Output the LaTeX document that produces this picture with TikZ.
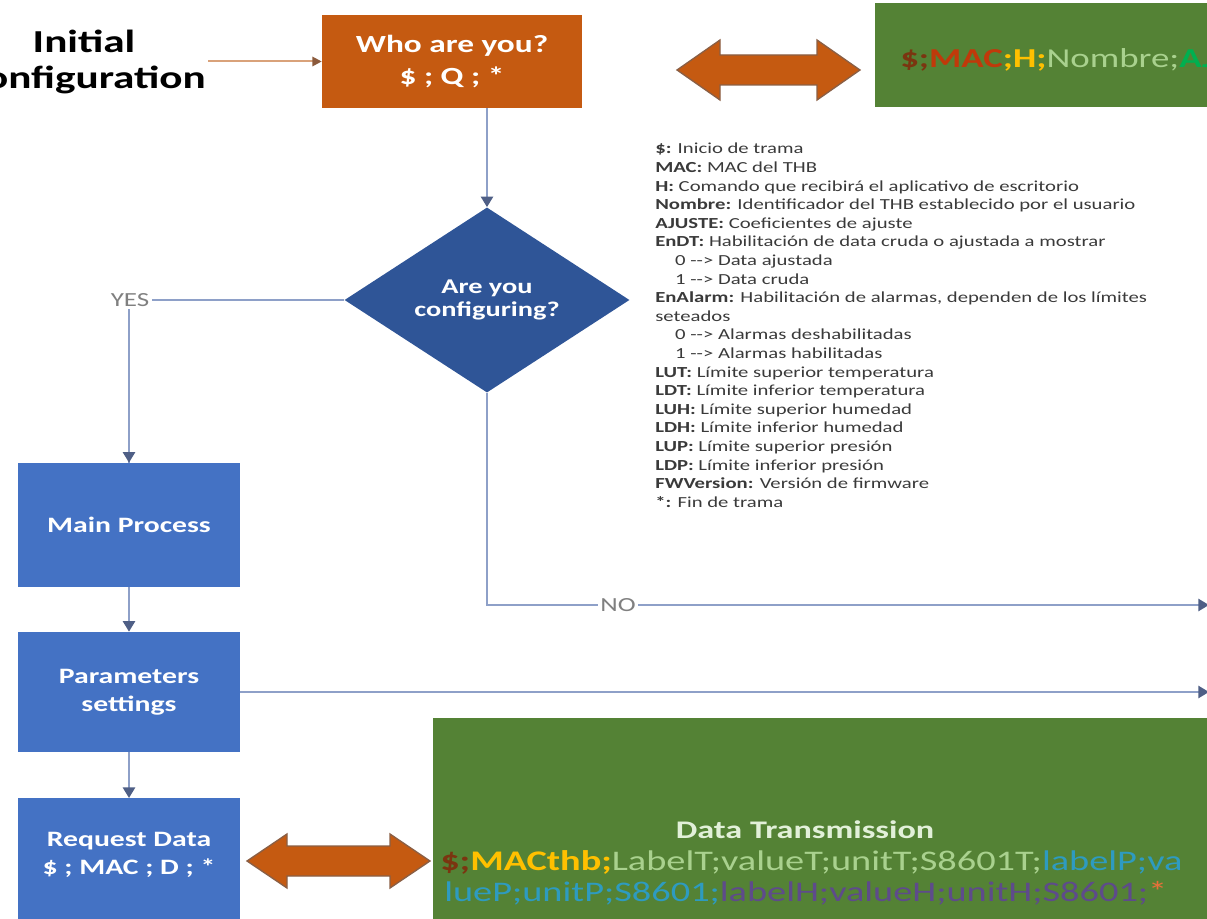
\documentclass[tikz,border=0pt]{standalone}
\usepackage{fontspec}
\setmainfont{Carlito}[FakeStretch=1.35]
\usetikzlibrary{arrows.meta,shapes.geometric}
\definecolor{orangeC}{HTML}{C55A11}
\definecolor{greenC}{HTML}{548235}
\definecolor{blueC}{HTML}{4472C4}
\definecolor{diaC}{HTML}{2F5597}
\definecolor{lineC}{HTML}{8EA0C8}
\definecolor{tipC}{HTML}{4F5F86}
\definecolor{darrLine}{HTML}{8A5F45}
\definecolor{initLine}{HTML}{D9A27A}
\definecolor{initTip}{HTML}{8B5A3C}
\definecolor{noteC}{HTML}{3A3A3A}
\definecolor{lblC}{HTML}{808080}
\definecolor{dbrown}{HTML}{7B3510}
\definecolor{redC}{HTML}{C0390A}
\definecolor{goldC}{HTML}{FFC000}
\definecolor{lgreen}{HTML}{A9D18E}
\definecolor{brgreen}{HTML}{00B050}
\definecolor{tealC}{HTML}{2E9BC0}
\definecolor{purpC}{HTML}{5E4B8B}
\definecolor{starC}{HTML}{E8703A}
\definecolor{titleC}{HTML}{E2F0D9}
\tikzset{
  boxbase/.style={draw=none, inner sep=0pt, align=center, text=white, font=\bfseries\fontsize{16.5}{21}\selectfont},
  bluebox/.style={boxbase, fill=blueC, minimum width=166.5pt},
  conn/.style={draw=lineC, line width=2pt, -{Triangle[length=8pt,width=9pt,fill=tipC,color=tipC]}},
  plainconn/.style={draw=lineC, line width=2pt},
  lbl/.style={fill=white, inner sep=2pt, text=lblC, font=\fontsize{15}{17}\selectfont},
  darrow/.style={fill=orangeC, draw=darrLine, line width=1pt, line join=miter}
}
\begin{document}
\begin{tikzpicture}[x=0.75pt,y=-0.75pt]
\useasboundingbox (0,0) rectangle (1207,919);
\clip (0,0) rectangle (1207,919);

% top row
\node[align=center, inner sep=0pt, font=\bfseries\fontsize{24}{27}\selectfont] (init) at (84,62) {Initial\\Configuration};
\node[boxbase, fill=orangeC, minimum width=195pt, minimum height=69.75pt, font=\bfseries\fontsize{18.5}{24}\selectfont] (who) at (452,61.5) {Who are you?\\\$ ; Q ; *};
\node[draw=none, fill=greenC, minimum width=258.75pt, minimum height=78pt, inner sep=0pt] (gtop) at (1047.5,55) {};
\node[anchor=west, inner sep=0pt, font=\bfseries\fontsize{20.5}{24}\selectfont] (gtoptext) at (900,60)
  {\textcolor{dbrown}{\$;}\textcolor{redC}{MAC}\textcolor{goldC}{;H;}\textcolor{lgreen}{\mdseries Nombre;}\textcolor{brgreen}{AJUSTE;}};

\draw[draw=initLine, line width=1.5pt, -{Triangle[length=7pt,width=7pt,fill=initTip,color=initTip]}] (init.east |- who.west) ++(2,0) -- (who.west);

% double arrow top
\draw[darrow] (677,70) -- (720,40) -- (720,55) -- (817,55) -- (817,40) -- (860,70) -- (817,100) -- (817,85) -- (720,85) -- (720,100) -- cycle;

% decision
\node[diamond, fill=diaC, minimum width=213.75pt, minimum height=120pt, inner sep=0pt, align=center, text=white, font=\bfseries\fontsize{15.75}{17}\selectfont] (dia) at (487,300) {Are you\\configuring?};
\draw[conn] (dia.north |- who.south) -- (dia.north);

% notes
\node[anchor=north west, align=left, inner sep=0pt, text=noteC, font=\fontsize{11.5}{13.95}\selectfont] (notes) at (655,143) {%
\textbf{\$:} Inicio de trama\\
\textbf{MAC:} MAC del THB\\
\textbf{H:} Comando que recibirá el aplicativo de escritorio\\
\textbf{Nombre:} Identificador del THB establecido por el usuario\\
\textbf{AJUSTE:} Coeficientes de ajuste\\
\textbf{EnDT:} Habilitación de data cruda o ajustada a mostrar\\
\hspace*{1.3em}0 -{}-> Data ajustada\\
\hspace*{1.3em}1 -{}-> Data cruda\\
\textbf{EnAlarm:} Habilitación de alarmas, dependen de los límites\\
seteados\\
\hspace*{1.3em}0 -{}-> Alarmas deshabilitadas\\
\hspace*{1.3em}1 -{}-> Alarmas habilitadas\\
\textbf{LUT:} Límite superior temperatura\\
\textbf{LDT:} Límite inferior temperatura\\
\textbf{LUH:} Límite superior humedad\\
\textbf{LDH:} Límite inferior humedad\\
\textbf{LUP:} Límite superior presión\\
\textbf{LDP:} Límite inferior presión\\
\textbf{FWVersion:} Versión de firmware\\
\textbf{*:} Fin de trama};

% left column
\node[bluebox, minimum height=93pt] (main) at (129,525) {Main Process};
\node[bluebox, minimum height=90pt] (params) at (129,692) {Parameters\\settings};
\node[bluebox, minimum height=103pt] (req) at (129,867) {};
\node[boxbase] (reqtext) at (129,855) {Request Data\\\$ ; MAC ; D ; *};

\draw[plainconn] (dia.west) -| (main.north);
\draw[conn] (main.north) ++(0,-140) -- (main.north);
\node[lbl] (yes) at (130,300) {YES};
\draw[conn] (main.south) -- (params.north);
\draw[conn] (params.south) -- (req.north);

% NO branch and parameters branch
\coordinate (noend) at (1209,605);
\coordinate (parend) at (1209,692);
\draw[conn] (dia.south) |- (noend);
\node[lbl] (no) at (618,605) {NO};
\draw[conn] (params.east) -- (parend);

% bottom green
\node[draw=none, fill=greenC, minimum width=590.25pt, minimum height=162.75pt, inner sep=0pt] (gbot) at (826.5,826.5) {};
\node[inner sep=0pt, text=titleC, font=\bfseries\fontsize{19}{22}\selectfont] (dtitle) at (805,830) {Data Transmission};
\node[anchor=west, inner sep=0pt, font=\fontsize{21.3}{24}\selectfont] (dl1) at (440,862)
  {\textcolor{dbrown}{\textbf{\$;}}\textcolor{goldC}{\textbf{MACthb;}}\textcolor{lgreen}{LabelT;valueT;unitT;S8601T;}\textcolor{tealC}{labelP;va}};
\node[anchor=west, inner sep=0pt, font=\fontsize{21.3}{24}\selectfont] (dl2) at (444,893)
  {\textcolor{tealC}{lueP;unitP;S8601;}\textcolor{purpC}{labelH;valueH;unitH;S8601;}\textcolor{starC}{*}};

% double arrow bottom
\draw[darrow] (247,861) -- (287,834) -- (287,846) -- (390,846) -- (390,834) -- (430,861) -- (390,888) -- (390,876) -- (287,876) -- (287,888) -- cycle;
\end{tikzpicture}
\end{document}
